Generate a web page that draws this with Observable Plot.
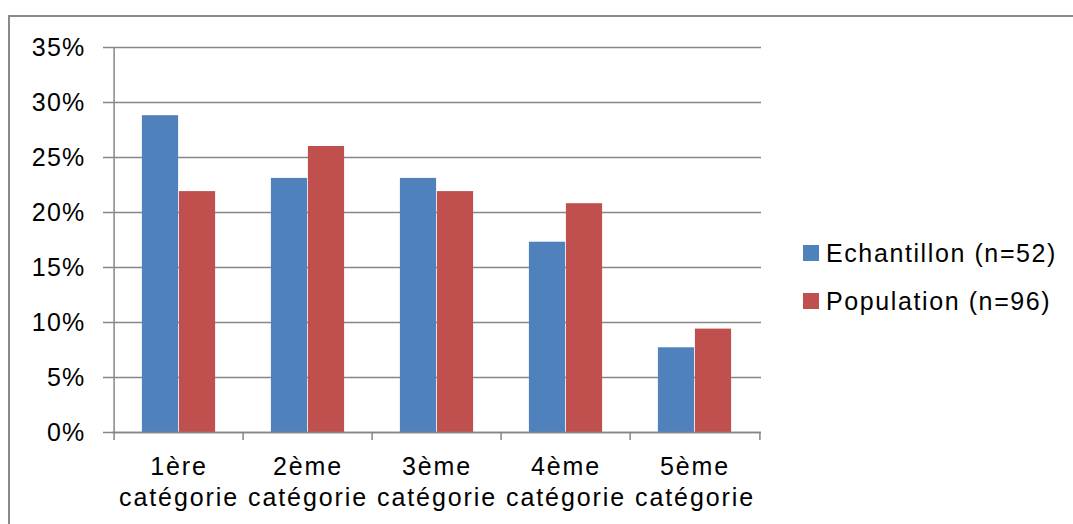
<!DOCTYPE html>
<html>
<head>
<meta charset="utf-8">
<script src="https://cdn.jsdelivr.net/npm/d3@7"></script>
<script src="https://cdn.jsdelivr.net/npm/@observablehq/plot@0.6"></script>
<style>
  html, body { margin: 0; padding: 0; background: #fff; }
  #wrap { position: relative; width: 1073px; height: 524px; overflow: hidden; font-family: "Liberation Sans", Arial, sans-serif; }
  #border { position: absolute; left: 8px; top: 15px; width: 1200px; height: 700px; border: 2px solid #8a8a8a; box-sizing: border-box; }
  #chart { position: absolute; left: 0; top: 0; }
  #chart svg g[aria-label="x-axis tick label"] text { letter-spacing: 1.9px; }
  #chart svg g[aria-label="y-axis tick label"] text { letter-spacing: 1.2px; }
  #legend { position: absolute; left: 803px; top: 229px; font-size: 25px; color: #000; letter-spacing: 1.6px; }
  .item { display: flex; align-items: center; height: 48px; }
  .sw { width: 16px; height: 16px; margin-right: 7px; }
</style>
</head>
<body>
<div id="wrap">
  <div id="border"></div>
  <div id="chart"></div>
  <div id="legend"></div>
</div>
<script>
const categories = ["1ère\ncatégorie", "2ème\ncatégorie", "3ème\ncatégorie", "4ème\ncatégorie", "5ème\ncatégorie"];
const seriesNames = ["Echantillon (n=52)", "Population (n=96)"];
const echantillon = [0.288, 0.231, 0.231, 0.173, 0.077];
const population = [0.219, 0.260, 0.219, 0.208, 0.094];
const colors = ["#4f81bd", "#c0504d"];
const yTicks = [0, 0.05, 0.10, 0.15, 0.20, 0.25, 0.30, 0.35];

const data = [];
categories.forEach((c, i) => {
  data.push({cat: c, series: seriesNames[0], value: echantillon[i]});
  data.push({cat: c, series: seriesNames[1], value: population[i]});
});

const gray = "#868686";
const W = 1073, H = 524;
const mLeft = 112, mRight = W - 761, mTop = 47, mBottom = H - 432;
const step = (W - mLeft - mRight) / categories.length;
const barW = 37;
const outer = (step - 2 * barW) / 2;

const plot = Plot.plot({
  width: W,
  height: H,
  marginLeft: mLeft,
  marginRight: mRight,
  marginTop: mTop,
  marginBottom: mBottom,
  style: {fontFamily: "Liberation Sans, Arial, sans-serif", fontSize: "25px", color: "#000", background: "transparent", overflow: "visible"},
  x: {domain: categories, padding: 0, label: null},
  y: {domain: [0, 0.35], label: null},
  marks: [
    Plot.ruleY(yTicks, {stroke: gray, strokeWidth: 1.5, strokeOpacity: 1}),
    Plot.axisY(yTicks, {tickFormat: d => Math.round(d * 100) + "%", tickSize: 9, tickPadding: 18, stroke: gray, strokeWidth: 1.5, strokeOpacity: 1, fill: "#000", fontSize: 25, label: null}),
    Plot.barY(data.filter(d => d.series === seriesNames[0]), {x: "cat", y: "value", fill: colors[0], insetLeft: outer, insetRight: step - outer - barW}),
    Plot.barY(data.filter(d => d.series === seriesNames[1]), {x: "cat", y: "value", fill: colors[1], insetLeft: outer + barW, insetRight: outer}),
    Plot.ruleX(categories.slice(0, 1), {x: d => d, dx: -step / 2, y1: 0, y2: 0.35, stroke: gray, strokeWidth: 1.5}),
    Plot.ruleX(categories, {x: d => d, dx: -step / 2, y1: 0, y2: 0, insetBottom: -8, stroke: gray, strokeWidth: 1.5}),
    Plot.ruleX(categories.slice(-1), {x: d => d, dx: step / 2, y1: 0, y2: 0, insetBottom: -8, stroke: gray, strokeWidth: 1.5}),
    Plot.ruleY([0], {stroke: gray, strokeWidth: 1.5}),
    Plot.axisX({tickSize: 0, tickPadding: 21, fill: "#000", fontSize: 25, lineHeight: 1.23, label: null})
  ]
});
document.getElementById("chart").appendChild(plot);

const legend = document.getElementById("legend");
seriesNames.forEach((s, i) => {
  const item = document.createElement("div");
  item.className = "item";
  const sw = document.createElement("div");
  sw.className = "sw";
  sw.style.background = colors[i];
  const label = document.createElement("span");
  label.textContent = s;
  item.appendChild(sw);
  item.appendChild(label);
  legend.appendChild(item);
});
</script>
</body>
</html>
